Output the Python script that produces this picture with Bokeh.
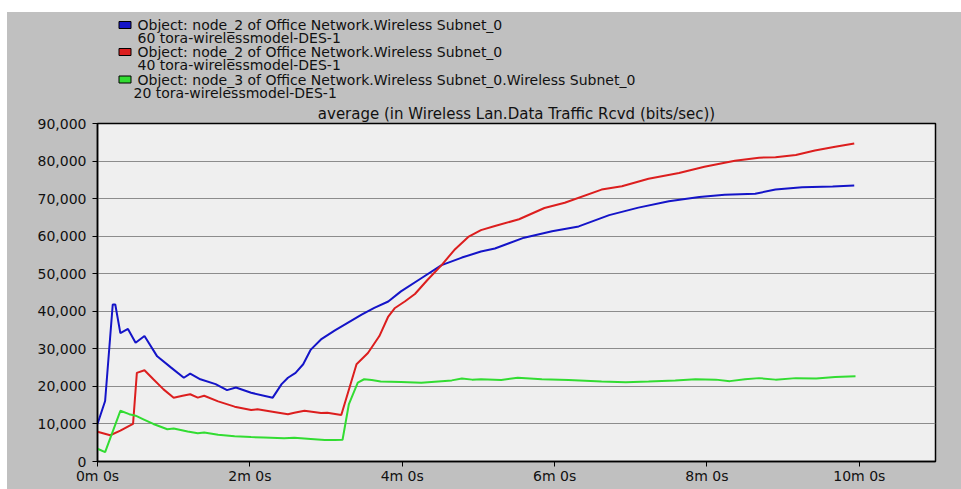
from bokeh.plotting import figure
from bokeh.models import Range1d, FixedTicker, NumeralTickFormatter, Spacer
from bokeh.core.properties import value
from bokeh.layouts import column, row
from bokeh.embed import file_html
from bokeh.resources import INLINE

# time in seconds
blue_t = [0, 6, 12, 14, 18, 24, 30, 37, 47, 58, 68, 73, 81, 93, 102, 109, 121, 138, 145, 150,
          156, 162, 168, 176, 187, 197, 208, 218, 229, 239, 255, 271, 287, 302, 313, 336, 358, 379, 403, 426,
          450, 474, 494, 518, 534, 555, 579, 596]
blue_v = [10000, 16100, 41800, 41800, 34200, 35300, 31600, 33400, 28000, 25000,
          22300, 23400, 21900, 20600, 19000, 19700, 18300, 17000, 20600, 22300,
          23600, 25900, 29800, 32500, 34900, 36900, 39100, 40900, 42600, 45300,
          48800, 52300, 54300, 55900, 56700, 59600, 61300, 62600, 65600, 67600,
          69300, 70400, 71000, 71300, 72400, 73000, 73200, 73500]

red_t = [0, 10, 18, 25, 28, 31, 37, 44, 52, 60, 67, 73, 79, 84, 95, 108, 121, 126, 139, 150,
         155, 163, 176, 181, 192, 204, 213, 222, 229, 234, 242, 250, 260, 271, 281, 292, 302, 313, 332, 352,
         368, 397, 413, 434, 458, 478, 502, 521, 534, 550, 565, 581, 596]
red_v = [7900, 7000, 8200, 9500, 10000, 23600, 24300, 21900, 19200, 17000,
         17500, 17900, 17000, 17500, 16000, 14600, 13700, 13900, 13200, 12600,
         13000, 13500, 12900, 13000, 12400, 25900, 28900, 33400, 38600, 40800,
         42600, 44600, 48400, 52300, 56300, 59800, 61600, 62700, 64500, 67500,
         68900, 72400, 73300, 75300, 76800, 78500, 80100, 80900, 81000, 81600,
         82800, 83800, 84700]

green_t = [0, 6, 18, 25, 30, 37, 44, 55, 60, 71, 79, 84, 95, 108, 121, 131, 147, 155, 168, 179,
           187, 193, 198, 205, 210, 216, 223, 239, 255, 263, 271, 279, 287, 295, 302, 318, 331, 350, 371, 397,
           416, 434, 455, 471, 487, 498, 510, 521, 534, 550, 566, 581, 597]
green_v = [3400, 2500, 13500, 12600, 12200, 11100, 10000, 8600, 8800, 8000,
           7500, 7700, 7100, 6700, 6500, 6400, 6200, 6300, 6000, 5700,
           5700, 5800, 15300, 21000, 21900, 21700, 21300, 21200, 21000, 21200,
           21400, 21600, 22100, 21800, 21900, 21700, 22300, 21900, 21700, 21300,
           21100, 21300, 21600, 21900, 21800, 21400, 21900, 22200, 21800, 22200,
           22100, 22500, 22700]

x_ticks = [0, 120, 240, 360, 480, 600]
x_tick_labels = ["0m 0s", "2m 0s", "4m 0s", "6m 0s", "8m 0s", "10m 0s"]
y_ticks = [0, 10000, 20000, 30000, 40000, 50000, 60000, 70000, 80000, 90000]

series_names = ["Object: node_2 of Office Network.Wireless Subnet_0",
                "Object: node_2 of Office Network.Wireless Subnet_0",
                "Object: node_3 of Office Network.Wireless Subnet_0.Wireless Subnet_0"]
series_runs = ["60 tora-wirelessmodel-DES-1", "40 tora-wirelessmodel-DES-1", "20 tora-wirelessmodel-DES-1"]
chart_title = "average (in Wireless Lan.Data Traffic Rcvd (bits/sec))"

colors = ["#1414c8", "#dc1e1e", "#32dc32"]
FONT = "DejaVu Sans"
GRAY = "#c0c0c0"
TXT = "#111111"

LEFT, TOP = 7, 12          # white strip left / top of the gray panel
W = 961 - LEFT             # 954
ML, MR = 90, 26            # frame spans canvas x 97..935
HB = 89                    # header spans canvas y 12..101
MT, MB = 20, 28            # main frame spans canvas y 121..461
H = MT + 340 + MB

# ---------------- header (legend) ----------------
fx0, fx1 = LEFT + ML, 961 - MR
hdr = figure(width=W, height=HB, output_backend="svg", toolbar_location=None,
             x_axis_type=None, y_axis_type=None,
             x_range=Range1d(fx0, fx1), y_range=Range1d(TOP + HB, TOP),
             min_border_left=ML, min_border_right=MR, min_border_top=0, min_border_bottom=0)
hdr.border_fill_alpha = 0
hdr.background_fill_alpha = 0
hdr.outline_line_color = None
hdr.grid.visible = False

row_y = [[24.5, 37.5], [51.5, 64.5], [79, 92]]
sq_y = [r[0] for r in row_y]
hdr.rect(x=[124.5] * 3, y=sq_y, width=12, height=7, fill_color=colors,
         line_color="black", line_width=1)
txt_x = [137] * 3 + [137, 137, 133]
txt_y = [r[0] for r in row_y] + [r[1] for r in row_y]
hdr.text(x=txt_x, y=txt_y, text=series_names + series_runs,
         text_font=value(FONT), text_font_size=value("14px"), text_color=TXT,
         text_baseline="middle", text_align="left")

# ---------------- main chart ----------------
p = figure(width=W, height=H, output_backend="svg", toolbar_location=None,
           x_range=Range1d(0, 660), y_range=Range1d(0, 90000),
           min_border_left=ML, min_border_right=MR, min_border_top=MT, min_border_bottom=MB)
p.border_fill_color = GRAY
p.background_fill_color = "#efefef"
p.outline_line_color = "black"
p.outline_line_width = 1.5

p.title.text = chart_title
p.title.align = "center"
p.title.text_font = FONT
p.title.text_font_size = "15px"
p.title.text_font_style = "normal"
p.title.text_color = TXT
p.title.standoff = 2

p.xgrid.visible = False
p.ygrid.grid_line_color = "#8c8c8c"
p.ygrid.grid_line_width = 1
p.ygrid.ticker = FixedTicker(ticks=y_ticks)

p.xaxis.ticker = FixedTicker(ticks=x_ticks)
p.xaxis.major_label_overrides = {t: l for t, l in zip(x_ticks, x_tick_labels)}
p.yaxis.ticker = FixedTicker(ticks=y_ticks)
p.yaxis.formatter = NumeralTickFormatter(format="0,0")
for ax in (p.xaxis[0], p.yaxis[0]):
    ax.axis_line_color = "black"
    ax.axis_line_width = 1.5
    ax.major_tick_line_color = "black"
    ax.major_tick_in = 0
    ax.major_tick_out = 5
    ax.minor_tick_line_color = None
    ax.major_label_text_font = FONT
    ax.major_label_text_font_size = "14px"
    ax.major_label_text_color = TXT
p.xaxis.major_label_standoff = 1
p.yaxis.major_label_standoff = 6

for t, v, c in zip([blue_t, red_t, green_t], [blue_v, red_v, green_v], colors):
    p.line(t, v, line_color=c, line_width=2)

panel = column(hdr, p, spacing=0, styles={"background-color": GRAY})
layout = row(Spacer(width=LEFT, height=TOP + HB + H),
             column(Spacer(width=W, height=TOP), panel, spacing=0), spacing=0)
open("out.html", "w").write(file_html(layout, INLINE))
